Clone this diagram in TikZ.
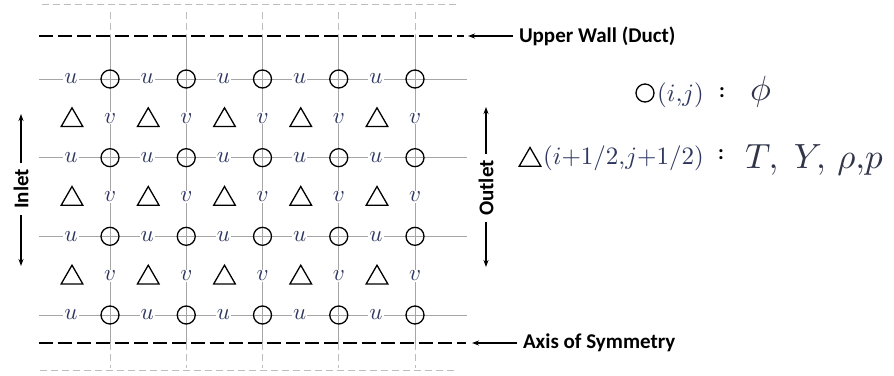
\documentclass[tikz,border=0pt]{standalone}
\usepackage{graphicx}
\usepackage{fontspec}
\newfontfamily\calfont{Carlito}
\usetikzlibrary{arrows.meta,shapes.geometric}

\definecolor{gridgray}{HTML}{A6A6A6}
\definecolor{ghost}{HTML}{BDBDBD}
\definecolor{varink}{HTML}{2E3760}
\definecolor{mathink}{HTML}{30354A}

% enlarged math symbols
\newcommand{\velsym}[1]{\scalebox{2.3}{$#1$}}
\newcommand{\keyidx}[1]{\scalebox{2.5}{$#1$}}
\newcommand{\keyvar}[1]{\scalebox{3.5}{$#1$}}

\tikzset{
  gridline/.style={draw=gridgray,line width=0.9pt},
  ghostline/.style={draw=ghost,line width=0.8pt,dash pattern=on 7pt off 4pt},
  wall/.style={draw=black,line width=2pt,dash pattern=on 14pt off 5pt},
  cellpt/.style={circle,draw=black,line width=1.3pt,minimum size=18pt,inner sep=0pt},
  cellctr/.style={regular polygon,regular polygon sides=3,draw=black,line width=1.3pt,
    minimum size=25pt,inner sep=0pt},
  vel/.style={fill=white,inner sep=1pt,text=varink},
  tag/.style={font=\calfont\bfseries\fontsize{21}{25}\selectfont,inner sep=0pt,outer sep=6pt},
  pointer/.style={-{Stealth[length=7pt,width=5pt]},line width=1.2pt},
  legend/.style={inner sep=0pt,text=mathink},
}

\begin{document}
\begin{tikzpicture}[x=1pt,y=-1pt]
\useasboundingbox (0,0) rectangle (894,375);

% column and row positions of the staggered grid
\def\colxs{110,186.25,262.5,338.75,415}
\def\rowys{79,157.67,236.33,315}
\def\midys{118.3,197,275.7}

% faint outer boundary lines
\draw[ghostline] (42,4.5) -- (460,4.5);
\draw[ghostline] (40,370) -- (458,370);

% vertical grid lines, dashed beyond the walls
\foreach \x [count=\i] in \colxs {
  \coordinate (ctop\i) at (\x,12);
  \coordinate (cwt\i) at (\x,36);
  \coordinate (cwb\i) at (\x,343);
  \coordinate (cbot\i) at (\x,368);
  \draw[ghostline] (ctop\i) -- (cwt\i);
  \draw[gridline] (cwt\i) -- (cwb\i);
  \draw[ghostline] (cwb\i) -- (cbot\i);
}

% horizontal grid lines
\foreach \y [count=\j] in \rowys {
  \coordinate (rl\j) at (39,\y);
  \coordinate (rr\j) at (467,\y);
  \draw[gridline] (rl\j) -- (rr\j);
}

% duct wall and symmetry axis
\coordinate (wl) at (39,36);   \coordinate (wr) at (464,36);
\coordinate (al) at (39,343);  \coordinate (ar) at (466,343);
\draw[wall] (wl) -- (wr);
\draw[wall] (al) -- (ar);

% phi nodes (i,j) and u faces
\foreach \y [count=\j] in \rowys {
  \foreach \x [count=\i] in \colxs {
    \node[cellpt] (p\i-\j) at (\x,\y) {};
    \node[vel] (u\i-\j) at (\x-39,\y) {\velsym{u}};
  }
}

% cell centres (i+1/2,j+1/2) and v faces
\foreach \y [count=\j] in \midys {
  \foreach \x [count=\i] in \colxs {
    \node[cellctr] (c\i-\j) at (\x-38,\y+2) {};
    \node[vel] (v\i-\j) at (\x,\y) {\velsym{v}};
  }
}

% boundary labels
\node[tag,anchor=west] (upper) at (513,36) {Upper Wall (Duct)};
\coordinate (upperTip) at (468,36);
\draw[pointer] (upper) -- (upperTip);

\node[tag,anchor=west] (axis) at (517,343) {Axis of Symmetry};
\coordinate (axisTip) at (472,343);
\draw[pointer] (axis) -- (axisTip);

\node[tag,rotate=90] (inlet) at (21,189) {Inlet};
\coordinate (inTop) at (21,114);
\coordinate (inBot) at (21,266);
\draw[pointer] (inlet) -- (inTop);
\draw[pointer] (inlet) -- (inBot);

\node[tag,rotate=90] (outlet) at (486,188) {Outlet};
\coordinate (outTop) at (486,107);
\coordinate (outBot) at (486,267);
\draw[pointer] (outlet) -- (outTop);
\draw[pointer] (outlet) -- (outBot);

% legend
\node[cellpt] (keyc) at (645,93) {};
\node[legend,anchor=base west,text=varink] (keyij) at (657,101) {\keyidx{(i,\!j)}};
\node[legend,text=black,font=\calfont\bfseries\fontsize{21}{21}\selectfont] (keycol1) at (722,93) {:};
\node[legend,anchor=base west] (keyphi) at (750,100) {\keyvar{\phi}};

\node[cellctr] (keyt) at (530,160) {};
\node[legend,anchor=base west,text=varink] (keyhalf) at (543,164) {\keyidx{(i{+}1/2,\!j{+}1/2)}};
\node[legend,text=black,font=\calfont\bfseries\fontsize{21}{21}\selectfont] (keycol2) at (721,155) {:};
\node[legend,anchor=base west] (keyvars) at (745,168) {\keyvar{T,\;Y,\,\rho{,}p}};
\end{tikzpicture}
\end{document}
